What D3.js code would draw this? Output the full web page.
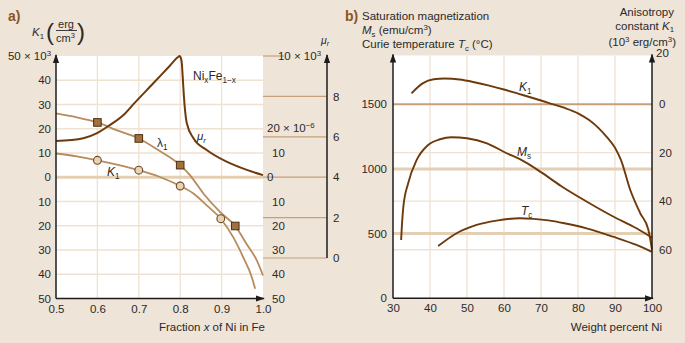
<!DOCTYPE html>
<html><head><meta charset="utf-8">
<script src="https://cdn.jsdelivr.net/npm/d3@7"></script>
<style>
html,body{margin:0;padding:0;background:#efe4d8;}
svg{display:block;font-family:"Liberation Sans",Arial,sans-serif;}
.tick text{font-size:11.5px;fill:#2a2a2a;}
</style></head>
<body>
<svg id="c" width="685" height="343"></svg>
<script>
// ---------- DATA: panel a ----------
const xTicksA = [0.5,0.6,0.7,0.8,0.9,1.0];
const kTicksA = [50,40,30,20,10,0,-10,-20,-30,-40,-50];
const lamTicksA = [20,10,0,-10,-20,-30,-40,-50];
const muTicksA = [0,2,4,6,8,10];
// mu_r curve (units of 10^3)
const muX = [0.5,0.566,0.598,0.63,0.663,0.69,0.735,0.775,0.795,0.799,0.8035,0.806,0.809,0.8116,0.816,0.832,0.864,0.912,0.961,1.0];
const muY = [5.79,5.93,6.17,6.58,7.08,7.68,8.65,9.52,9.95,10.0,9.72,8.98,7.99,7.33,6.67,5.93,5.35,4.77,4.36,4.1];
// lambda_1 curve (10^-6)
const lamX = [0.5,0.55,0.6,0.646,0.7,0.747,0.8,0.824,0.856,0.896,0.933,0.96,0.985,1.0];
const lamY = [26.3,24.7,22.6,19.4,16.0,11.2,5.0,0.8,-6.7,-14.3,-20.1,-27.4,-34.3,-40.5];
const lamMarkX = [0.6,0.7,0.8,0.933];
const lamMarkY = [22.6,16.0,5.0,-20.1];
// K1 curve (10^3 erg/cm3)
const k1X = [0.5,0.55,0.6,0.65,0.7,0.751,0.8,0.832,0.864,0.898,0.928,0.952,0.973,0.981];
const k1Y = [9.8,8.6,7.0,5.1,2.9,0.1,-3.6,-6.7,-11.6,-17.1,-24.7,-32.9,-41.2,-46.0];
const k1MarkX = [0.6,0.7,0.8,0.898];
const k1MarkY = [7.0,2.9,-3.6,-17.1];

// ---------- DATA: panel b ----------
const xTicksB = [30,40,50,60,70,80,90,100];
const yTicksB = [0,500,1000,1500];
const kTicksB = [20,0,-20,-40,-60];
const bK1X = [35,38,41,44,48,52,56,60,64,68,72,76,80,83,85.5,87.8,90,91.6,94.1,96.8,99,100];
const bK1Y = [4.4,8.5,10.2,10.5,10.1,9.0,7.6,6.0,4.2,2.4,0.5,-1.4,-3.8,-6.6,-9.8,-13.6,-18,-23,-35.3,-44.9,-51.7,-60];
const msX = [32.2,32.4,32.8,34.1,36.4,39.5,42.7,45.8,50,55.4,60.7,64.3,70,75.4,82.3,89.5,95.8,100];
const msY = [450,560,708,889,1069,1185,1229,1245,1237,1198,1121,1075,975,868,748,632,541,468];
const tcX = [42.2,47.2,52.6,58,64.3,68,72,76.3,82.3,89.5,95.8,100];
const tcY = [404,503,567,600,619,614,602,580,541,476,412,358];

// ---------- setup ----------
const svg = d3.select("#c");
const GRID="#efe2d2", ZERO="#e4cfb4", TAN="#c6a07a", DARK="#6e3a0c", LIGHT="#b88a5c", AX="#1c1c1c";

const defs = svg.append("defs");
defs.append("marker").attr("id","arr").attr("viewBox","0 0 10 10").attr("refX",9).attr("refY",5)
  .attr("markerWidth",9).attr("markerHeight",9).attr("markerUnits","userSpaceOnUse").attr("orient","auto")
  .append("path").attr("d","M0,1.5L10,5L0,8.5Z").attr("fill",AX);

function rich(g, x, y, parts, opts={}) {
  const fs = opts.size||11.5;
  const t = g.append("text").attr("x",x).attr("y",y)
    .attr("font-size",fs).attr("fill",opts.fill||"#2a2a2a")
    .attr("text-anchor",opts.anchor||"start");
  if (opts.weight) t.attr("font-weight",opts.weight);
  let cur = 0;
  parts.forEach(p=>{
    const target = p.sup ? -fs*0.36 : (p.sub ? fs*0.22 : 0);
    const s = t.append("tspan").text(p.t).attr("dy", target-cur);
    cur = target;
    if (p.i) s.attr("font-style","italic");
    if (p.sup || p.sub) s.attr("font-size",fs*0.68);
  });
  return t;
}

// ================= PANEL A =================
const xa = d3.scaleLinear([0.5,1.0],[56,263]);
const ka = d3.scaleLinear([-50,50],[298.5,56]);
const mu = d3.scaleLinear([0,10],[258,56]);
const ga = svg.append("g");

ga.append("rect").attr("x",xa(0.5)).attr("y",ka(50)).attr("width",xa(1)-xa(0.5)).attr("height",ka(-50)-ka(50)).attr("fill","#fff");
ga.selectAll(".hg").data(kTicksA.filter(d=>d!==0 && Math.abs(d)!==50)).join("line")
  .attr("x1",xa(0.5)).attr("x2",xa(1)).attr("y1",d=>ka(d)).attr("y2",d=>ka(d)).attr("stroke",GRID).attr("stroke-width",1.3);
ga.selectAll(".vg").data(xTicksA.filter(d=>d>0.5&&d<1)).join("line")
  .attr("x1",d=>xa(d)).attr("x2",d=>xa(d)).attr("y1",ka(50)).attr("y2",ka(-50)).attr("stroke",GRID).attr("stroke-width",1.3);
ga.append("line").attr("x1",xa(0.5)).attr("x2",xa(1)).attr("y1",ka(0)).attr("y2",ka(0)).attr("stroke",ZERO).attr("stroke-width",3);
ga.selectAll(".ml").data(muTicksA.filter(d=>d<10)).join("line")
  .attr("x1",xa(1)).attr("x2",327).attr("y1",d=>mu(d)).attr("y2",d=>mu(d)).attr("stroke",TAN).attr("stroke-width",1.2);
ga.append("line").attr("x1",xa(1)).attr("x2",284).attr("y1",mu(10)).attr("y2",mu(10)).attr("stroke",TAN).attr("stroke-width",1.2);

const lineA = (xs,ys,sc)=>d3.line().x((d,i)=>xa(xs[i])).y((d,i)=>sc(ys[i])).curve(d3.curveMonotoneX)(xs);
ga.append("path").attr("d",lineA(lamX,lamY,ka)).attr("fill","none").attr("stroke",LIGHT).attr("stroke-width",1.8);
ga.append("path").attr("d",lineA(k1X,k1Y,ka)).attr("fill","none").attr("stroke",LIGHT).attr("stroke-width",1.8);
ga.append("path").attr("d",lineA(muX,muY,mu)).attr("fill","none").attr("stroke",DARK).attr("stroke-width",2);
ga.selectAll(".sq").data(lamMarkX).join("rect")
  .attr("x",(d)=>xa(d)-3.8).attr("y",(d,i)=>ka(lamMarkY[i])-3.8).attr("width",7.6).attr("height",7.6)
  .attr("fill","#a0703f").attr("stroke","#4e2e10").attr("stroke-width",1);
ga.selectAll(".ci").data(k1MarkX).join("circle")
  .attr("cx",d=>xa(d)).attr("cy",(d,i)=>ka(k1MarkY[i])).attr("r",3.9)
  .attr("fill","#e8d2b4").attr("stroke","#6e4a2a").attr("stroke-width",1.1);

ga.append("line").attr("x1",xa(0.5)).attr("x2",xa(0.5)).attr("y1",ka(-50)).attr("y2",ka(50)-1).attr("stroke",AX).attr("stroke-width",1.5).attr("marker-end","url(#arr)");
ga.append("line").attr("x1",xa(0.5)).attr("x2",xa(1)+1).attr("y1",ka(-50)).attr("y2",ka(-50)).attr("stroke",AX).attr("stroke-width",1.5).attr("marker-end","url(#arr)");
ga.append("line").attr("x1",327).attr("x2",327).attr("y1",mu(0)).attr("y2",mu(10)-1).attr("stroke",AX).attr("stroke-width",1.5).attr("marker-end","url(#arr)");

const axL = ga.append("g").attr("transform",`translate(${xa(0.5)},0)`)
  .call(d3.axisLeft(ka).tickValues(kTicksA).tickSize(0).tickPadding(5).tickFormat(d=>d===50?"":Math.abs(d)));
axL.select(".domain").remove();
rich(ga,51,ka(50)+4,[{t:"50 × 10"},{t:"3",sup:true}],{anchor:"end"});
const axM = ga.append("g").attr("transform",`translate(${xa(1)},0)`)
  .call(d3.axisRight(ka).tickValues(lamTicksA).tickSize(0).tickPadding(9).tickFormat(d=>d===20?"":Math.abs(d)));
axM.select(".domain").remove();
axM.selectAll(".tick").filter(d=>d===0).select("text").attr("x",4);
rich(ga,267,ka(20)+3,[{t:"20 × 10"},{t:"−6",sup:true}],{});
const axR = ga.append("g").attr("transform","translate(327,0)")
  .call(d3.axisRight(mu).tickValues(muTicksA.filter(d=>d<10)).tickSize(0).tickPadding(6));
axR.select(".domain").remove();
rich(ga,321,mu(10)+4,[{t:"10 × 10"},{t:"3",sup:true}],{anchor:"end"});
rich(ga,321,44,[{t:"μ",i:true},{t:"r",sub:true,i:true}],{size:10.5});
const axB = ga.append("g").attr("transform",`translate(0,${ka(-50)})`)
  .call(d3.axisBottom(xa).tickValues(xTicksA).tickSize(0).tickPadding(6).tickFormat(d3.format(".1f")));
axB.select(".domain").remove();
rich(ga,265,331,[{t:"Fraction "},{t:"x",i:true},{t:" of Ni in Fe"}],{anchor:"end"});

ga.append("text").attr("x",8).attr("y",21).text("a)").attr("font-size",14).attr("font-weight","bold").attr("fill","#8a5520");
rich(ga,32,36,[{t:"K",i:true},{t:"1",sub:true}],{size:11.5});
ga.append("text").attr("x",46).attr("y",40).text("(").attr("font-size",24).attr("fill","#2a2a2a");
ga.append("text").attr("x",77).attr("y",40).text(")").attr("font-size",24).attr("fill","#2a2a2a");
ga.append("text").attr("x",66).attr("y",28).text("erg").attr("font-size",11).attr("text-anchor","middle").attr("fill","#2a2a2a");
ga.append("line").attr("x1",56).attr("x2",77).attr("y1",30.5).attr("y2",30.5).attr("stroke","#2a2a2a").attr("stroke-width",0.9);
rich(ga,56,42,[{t:"cm"},{t:"3",sup:true}],{size:11});

rich(ga,193,80,[{t:"Ni"},{t:"x",sub:true},{t:"Fe"},{t:"1−x",sub:true}],{size:12});
rich(ga,157,147,[{t:"λ"},{t:"1",sub:true}],{size:12});
rich(ga,107,176,[{t:"K",i:true},{t:"1",sub:true}],{size:12});
rich(ga,197,140,[{t:"μ",i:true},{t:"r",sub:true,i:true}],{size:11.5});

// ================= PANEL B =================
const xb = d3.scaleLinear([30,100],[393,652]);
const yb = d3.scaleLinear([0,1500],[298.3,104.2]);
const kb = d3.scaleLinear([-80,20],[298.3,55.5]);
const gb = svg.append("g");
gb.append("rect").attr("x",xb(30)).attr("y",kb(20)).attr("width",xb(100)-xb(30)).attr("height",kb(-80)-kb(20)).attr("fill","#fff");
gb.selectAll(".vg").data(xTicksB.filter(d=>d>30&&d<100)).join("line")
  .attr("x1",d=>xb(d)).attr("x2",d=>xb(d)).attr("y1",kb(20)).attr("y2",kb(-80)).attr("stroke",GRID).attr("stroke-width",1.3);
gb.selectAll(".hg").data(kTicksB.filter(d=>d<0)).join("line")
  .attr("x1",xb(30)).attr("x2",xb(100)).attr("y1",d=>kb(d)).attr("y2",d=>kb(d)).attr("stroke",GRID).attr("stroke-width",1.3);
gb.selectAll(".yl").data(yTicksB.filter(d=>d>0&&d<1500)).join("line")
  .attr("x1",xb(30)).attr("x2",xb(100)).attr("y1",d=>yb(d)).attr("y2",d=>yb(d)).attr("stroke",ZERO).attr("stroke-width",3);
gb.append("line").attr("x1",xb(30)).attr("x2",xb(100)).attr("y1",yb(1500)).attr("y2",yb(1500)).attr("stroke",TAN).attr("stroke-width",2);

const lineB = (xs,ys,sc)=>d3.line().x((d,i)=>xb(xs[i])).y((d,i)=>sc(ys[i])).curve(d3.curveMonotoneX)(xs);
gb.append("path").attr("d",lineB(bK1X,bK1Y,kb)).attr("fill","none").attr("stroke",DARK).attr("stroke-width",1.9);
gb.append("path").attr("d",lineB(msX,msY,yb)).attr("fill","none").attr("stroke",DARK).attr("stroke-width",1.9);
gb.append("path").attr("d",lineB(tcX,tcY,yb)).attr("fill","none").attr("stroke",DARK).attr("stroke-width",1.9);

gb.append("line").attr("x1",xb(30)).attr("x2",xb(30)).attr("y1",kb(-80)).attr("y2",kb(20)-1).attr("stroke",AX).attr("stroke-width",1.5).attr("marker-end","url(#arr)");
gb.append("line").attr("x1",xb(30)).attr("x2",xb(100)+1).attr("y1",kb(-80)).attr("y2",kb(-80)).attr("stroke",AX).attr("stroke-width",1.5).attr("marker-end","url(#arr)");
gb.append("line").attr("x1",xb(100)).attr("x2",xb(100)).attr("y1",kb(-80)).attr("y2",kb(20)-1).attr("stroke",AX).attr("stroke-width",1.5).attr("marker-end","url(#arr)");

const bL = gb.append("g").attr("transform",`translate(${xb(30)},0)`)
  .call(d3.axisLeft(yb).tickValues(yTicksB).tickSize(0).tickPadding(6).tickFormat(d3.format("d")));
bL.select(".domain").remove();
const bR = gb.append("g").attr("transform",`translate(${xb(100)},0)`)
  .call(d3.axisRight(kb).tickValues(kTicksB).tickSize(0).tickPadding(7).tickFormat(d=>Math.abs(d)));
bR.select(".domain").remove();
bR.selectAll(".tick").filter(d=>d===20).select("text").attr("x",4).attr("dy","0.1em");
const bB = gb.append("g").attr("transform",`translate(0,${kb(-80)})`)
  .call(d3.axisBottom(xb).tickValues(xTicksB).tickSize(0).tickPadding(6));
bB.select(".domain").remove();
rich(gb,662,331,[{t:"Weight percent Ni"}],{anchor:"end"});

gb.append("text").attr("x",345).attr("y",21).text("b)").attr("font-size",14).attr("font-weight","bold").attr("fill","#8a5520");
rich(gb,362,20,[{t:"Saturation magnetization"}]);
rich(gb,362,34,[{t:"M",i:true},{t:"s",sub:true},{t:" (emu/cm"},{t:"3",sup:true},{t:")"}]);
rich(gb,362,48,[{t:"Curie temperature "},{t:"T",i:true},{t:"c",sub:true},{t:" (°C)"}]);
rich(gb,674,16,[{t:"Anisotropy"}],{anchor:"end"});
rich(gb,674,29.5,[{t:"constant "},{t:"K",i:true},{t:"1",sub:true}],{anchor:"end"});
rich(gb,676,46,[{t:"(10"},{t:"3",sup:true},{t:" erg/cm"},{t:"3",sup:true},{t:")"}],{anchor:"end"});

rich(gb,519,91,[{t:"K",i:true},{t:"1",sub:true}],{size:12});
rich(gb,517,156,[{t:"M",i:true},{t:"s",sub:true}],{size:12});
rich(gb,521,215,[{t:"T",i:true},{t:"c",sub:true}],{size:12});
</script>
</body></html>
